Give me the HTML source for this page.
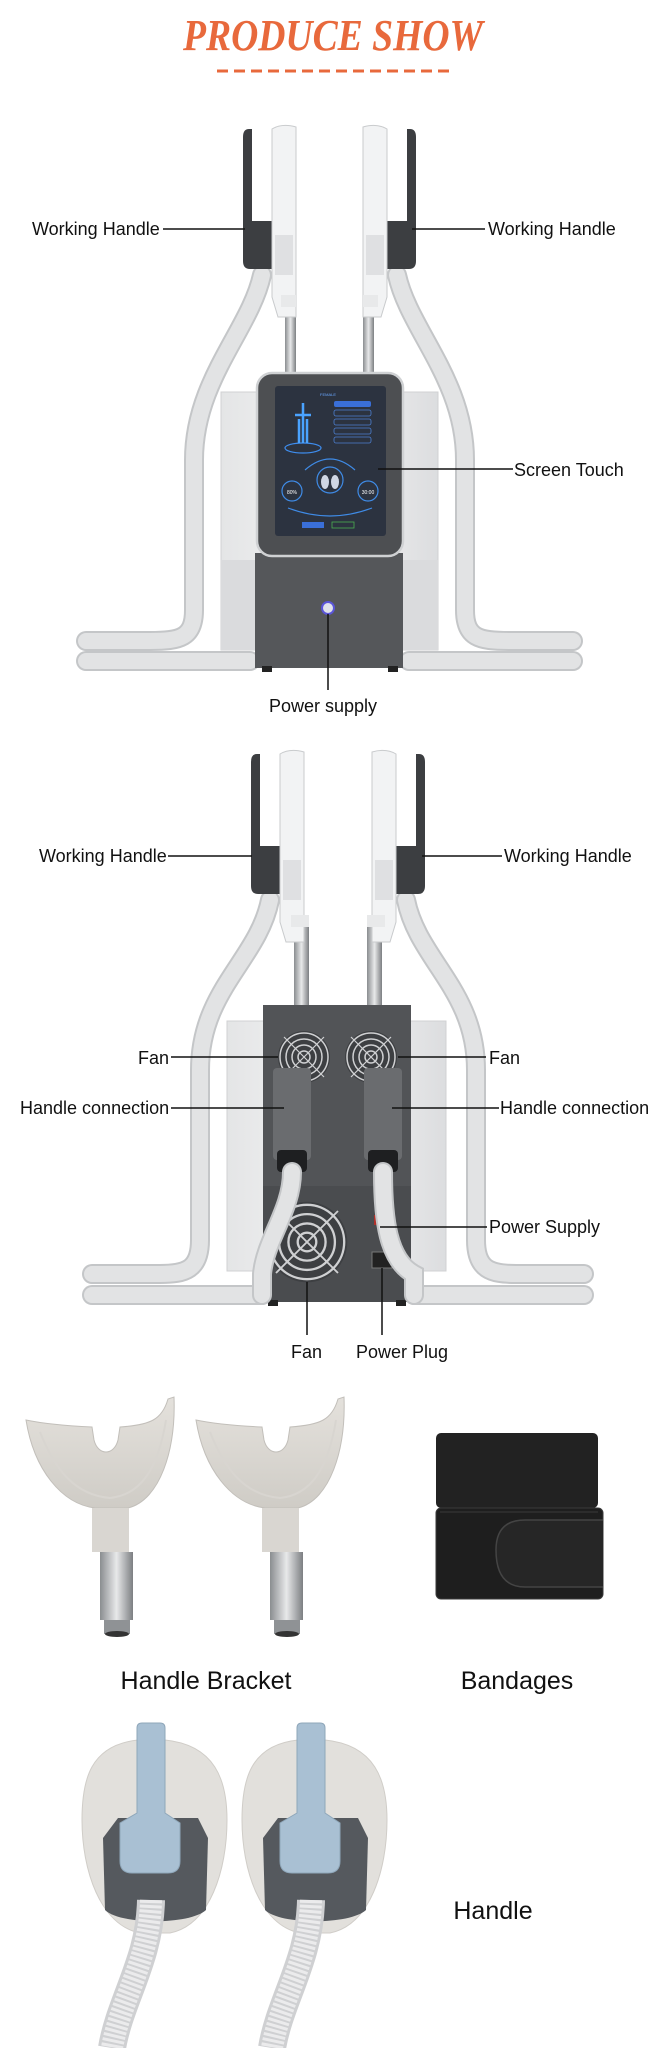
<!DOCTYPE html>
<html><head><meta charset="utf-8"><style>
html,body{margin:0;padding:0;background:#fff;}
svg{display:block;}
.l{font-family:"Liberation Sans",sans-serif;font-size:18px;fill:#111;}
.b{font-family:"Liberation Sans",sans-serif;font-size:25px;fill:#111;}
</style></head><body>
<svg width="665" height="2048" viewBox="0 0 665 2048" xmlns="http://www.w3.org/2000/svg">
<defs>
<linearGradient id="side" x1="0" x2="1"><stop offset="0" stop-color="#e4e5e6"/><stop offset="0.5" stop-color="#f4f4f5"/><stop offset="1" stop-color="#dcdddf"/></linearGradient>
<linearGradient id="pole" x1="0" x2="1"><stop offset="0" stop-color="#8a8d90"/><stop offset="0.5" stop-color="#e8e9ea"/><stop offset="1" stop-color="#7c7f82"/></linearGradient>
<linearGradient id="cup" x1="0" x2="0" y1="0" y2="1"><stop offset="0" stop-color="#e4e1dc"/><stop offset="1" stop-color="#cfccc6"/></linearGradient>
<g id="fan">
<circle r="26" fill="#3d3f42"/>
<circle r="24" fill="none" stroke="#cfd0d2" stroke-width="1.5"/>
<circle r="18" fill="none" stroke="#cfd0d2" stroke-width="1.5"/>
<circle r="12" fill="none" stroke="#cfd0d2" stroke-width="1.5"/>
<circle r="6" fill="none" stroke="#cfd0d2" stroke-width="1.5"/>
<path d="M-20-20L20 20M20-20L-20 20" stroke="#cfd0d2" stroke-width="1.2"/>
</g>
<g id="hl">
<path d="M243 137 q0-8 6-8 l3 0 l0 92 l22 0 l0 48 l-24 0 q-7 0-7-8z" fill="#3c3e41"/>
<path d="M272 129 q10-6 24-2 l0 190 l-18 0 l-6-20z" fill="#f2f3f4" stroke="#c9cbcd" stroke-width="1"/>
<rect x="275" y="235" width="18" height="40" fill="#dfe0e2"/>
</g>
</defs>

<text x="333" y="50" text-anchor="middle" font-family="Liberation Serif,serif" font-style="italic" font-weight="bold" font-size="44" fill="#e8693c" textLength="300" lengthAdjust="spacingAndGlyphs">PRODUCE SHOW</text>
<line x1="217" y1="71" x2="452" y2="71" stroke="#e8693c" stroke-width="3" stroke-dasharray="11 6"/>

<!-- MACHINE 1 -->
<g fill="none" stroke-linecap="round">
<path d="M86 661 L250 661" stroke="#c4c6c8" stroke-width="20"/>
<path d="M86 661 L250 661" stroke="#e2e3e4" stroke-width="16"/>
<path d="M262 275 C250 330,194 380,194 460 L194 610 C194 638,180 641,150 641 L86 641" stroke="#c4c6c8" stroke-width="20"/>
<path d="M262 275 C250 330,194 380,194 460 L194 610 C194 638,180 641,150 641 L86 641" stroke="#e2e3e4" stroke-width="16"/>
<path d="M573 661 L409 661" stroke="#c4c6c8" stroke-width="20"/>
<path d="M573 661 L409 661" stroke="#e2e3e4" stroke-width="16"/>
<path d="M397 275 C409 330,465 380,465 460 L465 610 C465 638,479 641,509 641 L573 641" stroke="#c4c6c8" stroke-width="20"/>
<path d="M397 275 C409 330,465 380,465 460 L465 610 C465 638,479 641,509 641 L573 641" stroke="#e2e3e4" stroke-width="16"/>
</g>
<rect x="221" y="392" width="217" height="258" fill="url(#side)" stroke="#d0d1d3"/>
<rect x="221" y="560" width="217" height="90" fill="#dadbdd"/>
<rect x="285" y="305" width="11" height="70" fill="url(#pole)"/>
<rect x="363" y="305" width="11" height="70" fill="url(#pole)"/>
<rect x="255" y="553" width="148" height="115" fill="#55575a"/>
<rect x="262" y="666" width="10" height="6" fill="#222"/><rect x="388" y="666" width="10" height="6" fill="#222"/>
<rect x="257" y="373" width="146" height="183" rx="15" fill="#4d4f52" stroke="#cfd1d3" stroke-width="2.5"/>
<rect x="275" y="386" width="111" height="150" rx="3" fill="#2c3340"/>
<text x="320" y="396" font-family="Liberation Sans,sans-serif" font-size="4" fill="#6aa8ff">FEMALE</text>
<ellipse cx="303" cy="448" rx="18" ry="5" fill="none" stroke="#3e8ef0" stroke-width="1.2"/>
<path d="M303 403 l0 40 M295 415 l16 0 M299 443 l0-24 M307 443 l0-24" stroke="#4aa3ff" stroke-width="2.5"/>
<g fill="#3a6fd8"><rect x="334" y="401" width="37" height="6" rx="2"/></g>
<g fill="none" stroke="#4d7fd0" stroke-width="0.8"><rect x="334" y="410" width="37" height="6" rx="2"/><rect x="334" y="419" width="37" height="6" rx="2"/><rect x="334" y="428" width="37" height="6" rx="2"/><rect x="334" y="437" width="37" height="6" rx="2"/></g>
<g fill="none" stroke="#3f8be6" stroke-width="1.2">
<circle cx="330" cy="480" r="13"/><circle cx="292" cy="491" r="10"/><circle cx="368" cy="491" r="10"/><path d="M288 508 q42 16 84 0"/><path d="M305 470 q25-22 50 0"/>
</g>
<ellipse cx="325" cy="482" rx="4" ry="7" fill="#cfd6e4"/><ellipse cx="335" cy="482" rx="4" ry="7" fill="#cfd6e4"/>
<text x="292" y="494" font-family="Liberation Sans,sans-serif" font-size="5" fill="#fff" text-anchor="middle">80%</text>
<text x="368" y="494" font-family="Liberation Sans,sans-serif" font-size="5" fill="#fff" text-anchor="middle">30:00</text>
<rect x="302" y="522" width="22" height="6" fill="#3a6fd8"/><rect x="332" y="522" width="22" height="6" fill="none" stroke="#4caf50" stroke-width="0.8"/>
<circle cx="328" cy="608" r="6" fill="#dfe2ea" stroke="#5a55d8" stroke-width="2"/>
<use href="#hl"/>
<use href="#hl" transform="translate(659 0) scale(-1 1)"/>
<rect x="281" y="295" width="15" height="12" fill="#e8e9ea"/><rect x="363" y="295" width="15" height="12" fill="#e8e9ea"/>

<g stroke="#111" stroke-width="1.5">
<line x1="163" y1="229" x2="245" y2="229"/>
<line x1="412" y1="229" x2="485" y2="229"/>
<line x1="378" y1="469" x2="513" y2="469"/>
<line x1="328" y1="614" x2="328" y2="690"/>
</g>
<text class="l" x="32" y="235">Working Handle</text>
<text class="l" x="488" y="235">Working Handle</text>
<text class="l" x="514" y="476">Screen Touch</text>
<text class="l" x="269" y="712">Power supply</text>

<!-- MACHINE 2 -->
<g fill="none" stroke-linecap="round">
<path d="M92 1295 L262 1295" stroke="#c4c6c8" stroke-width="20"/><path d="M92 1295 L262 1295" stroke="#e2e3e4" stroke-width="16"/>
<path d="M270 900 C258 960,200 990,200 1070 L200 1240 C200 1270,185 1274,160 1274 L92 1274" stroke="#c4c6c8" stroke-width="20"/>
<path d="M270 900 C258 960,200 990,200 1070 L200 1240 C200 1270,185 1274,160 1274 L92 1274" stroke="#e2e3e4" stroke-width="16"/>
<path d="M584 1295 L414 1295" stroke="#c4c6c8" stroke-width="20"/><path d="M584 1295 L414 1295" stroke="#e2e3e4" stroke-width="16"/>
<path d="M406 900 C418 960,476 990,476 1070 L476 1240 C476 1270,491 1274,516 1274 L584 1274" stroke="#c4c6c8" stroke-width="20"/>
<path d="M406 900 C418 960,476 990,476 1070 L476 1240 C476 1270,491 1274,516 1274 L584 1274" stroke="#e2e3e4" stroke-width="16"/>
</g>
<rect x="227" y="1021" width="219" height="250" fill="url(#side)" stroke="#d0d1d3"/>
<rect x="294" y="915" width="15" height="92" fill="url(#pole)"/>
<rect x="367" y="915" width="15" height="92" fill="url(#pole)"/>
<rect x="263" y="1005" width="148" height="297" fill="#525457"/>
<rect x="263" y="1186" width="148" height="116" fill="#4a4c4f"/>
<rect x="268" y="1300" width="10" height="6" fill="#222"/><rect x="396" y="1300" width="10" height="6" fill="#222"/>
<use href="#fan" transform="translate(304 1057)"/>
<use href="#fan" transform="translate(371 1057)"/>
<use href="#fan" transform="translate(307 1242) scale(1.55)"/>
<rect x="374" y="1215" width="7" height="10" fill="#b0302a"/>
<rect x="372" y="1252" width="20" height="16" fill="#222" stroke="#777"/>
<rect x="273" y="1068" width="38" height="92" rx="4" fill="#6a6c6f"/>
<rect x="364" y="1068" width="38" height="92" rx="4" fill="#6a6c6f"/>
<rect x="277" y="1150" width="30" height="22" rx="4" fill="#1e1f21"/>
<rect x="368" y="1150" width="30" height="22" rx="4" fill="#1e1f21"/>
<g fill="none" stroke-linecap="round">
<path d="M292 1172 C292 1210,265 1240,262 1274 L262 1295" stroke="#c4c6c8" stroke-width="20"/>
<path d="M292 1172 C292 1210,265 1240,262 1274 L262 1295" stroke="#e2e3e4" stroke-width="16"/>
<path d="M383 1172 C383 1220,388 1260,414 1274 L414 1295" stroke="#c4c6c8" stroke-width="20"/>
<path d="M383 1172 C383 1220,388 1260,414 1274 L414 1295" stroke="#e2e3e4" stroke-width="16"/>
</g>
<g transform="translate(8 625)"><use href="#hl"/></g>
<g transform="translate(668 625) scale(-1 1)"><use href="#hl"/></g>
<rect x="291" y="915" width="18" height="12" fill="#e8e9ea"/><rect x="367" y="915" width="18" height="12" fill="#e8e9ea"/>

<g stroke="#111" stroke-width="1.5">
<line x1="168" y1="856" x2="252" y2="856"/>
<line x1="422" y1="856" x2="502" y2="856"/>
<line x1="171" y1="1057" x2="278" y2="1057"/>
<line x1="398" y1="1057" x2="486" y2="1057"/>
<line x1="171" y1="1108" x2="284" y2="1108"/>
<line x1="392" y1="1108" x2="499" y2="1108"/>
<line x1="380" y1="1227" x2="487" y2="1227"/>
<line x1="307" y1="1282" x2="307" y2="1335"/>
<line x1="382" y1="1268" x2="382" y2="1335"/>
</g>
<text class="l" x="39" y="862">Working Handle</text>
<text class="l" x="504" y="862">Working Handle</text>
<text class="l" x="138" y="1064">Fan</text>
<text class="l" x="489" y="1064">Fan</text>
<text class="l" x="20" y="1114">Handle connection</text>
<text class="l" x="500" y="1114">Handle connection</text>
<text class="l" x="489" y="1233">Power Supply</text>
<text class="l" x="291" y="1358">Fan</text>
<text class="l" x="356" y="1358">Power Plug</text>

<!-- ACCESSORIES -->
<g id="brk">
<path d="M26 1420 C34 1470,62 1504,95 1508 L128 1508 C160 1500,176 1450,174 1397 L168 1399 C162 1420,150 1425,120 1427 L118 1440 C114 1456,98 1456,94 1440 L92 1427 C70 1426,45 1424,26 1420z" fill="url(#cup)" stroke="#c2bfba" stroke-width="1"/>
<path d="M40 1432 C55 1470,75 1495,110 1498 C140 1495,158 1470,166 1420" fill="none" stroke="#d8d5d0" stroke-width="2"/>
<rect x="92" y="1508" width="37" height="44" fill="#d9d6d1"/>
<rect x="100" y="1552" width="33" height="68" fill="url(#pole)"/>
<rect x="104" y="1620" width="26" height="14" fill="#8f9295"/>
<ellipse cx="117" cy="1634" rx="12" ry="3" fill="#333"/>
</g>
<use href="#brk" transform="translate(170 0)"/>
<rect x="436" y="1433" width="162" height="75" rx="5" fill="#222"/>
<rect x="436" y="1508" width="167" height="91" rx="5" fill="#1e1e1e" stroke="#3a3a3a"/>
<path d="M603 1520 L525 1520 Q496 1520 496 1550 Q496 1587 525 1587 L603 1587" fill="#262626" stroke="#444" stroke-width="1.5"/>
<line x1="440" y1="1512" x2="598" y2="1512" stroke="#3a3a3a"/>
<text class="b" x="206" y="1689" text-anchor="middle">Handle Bracket</text>
<text class="b" x="517" y="1689" text-anchor="middle">Bandages</text>

<g id="hd">
<path d="M138 1740 C90 1745,82 1780,82 1820 C82 1870,100 1925,140 1933 L170 1933 C210 1925,227 1870,227 1820 C227 1780,215 1745,165 1740z" fill="#e2e0dc" stroke="#d0cdc8"/>
<path d="M103 1838 L118 1818 L198 1818 L208 1838 L206 1910 C190 1925,120 1925,105 1910z" fill="#55595e"/>
<path d="M137 1728 q0-5 5-5 l18 0 q5 0 5 5 l0 85 l15 10 l0 38 q0 12-12 12 l-36 0 q-12 0-12-12 l0-38 l17-10z" fill="#a9c0d3" stroke="#8fa7ba"/>
<path d="M151 1900 C150 1960,120 2000,112 2048" stroke="#cfd0d2" stroke-width="28" fill="none"/>
<path d="M151 1900 C150 1960,120 2000,112 2048" stroke="#ebebec" stroke-width="22" fill="none" stroke-dasharray="3 2"/>
</g>
<use href="#hd" transform="translate(160 0)"/>
<text class="b" x="493" y="1919" text-anchor="middle">Handle</text>
</svg>
</body></html>
